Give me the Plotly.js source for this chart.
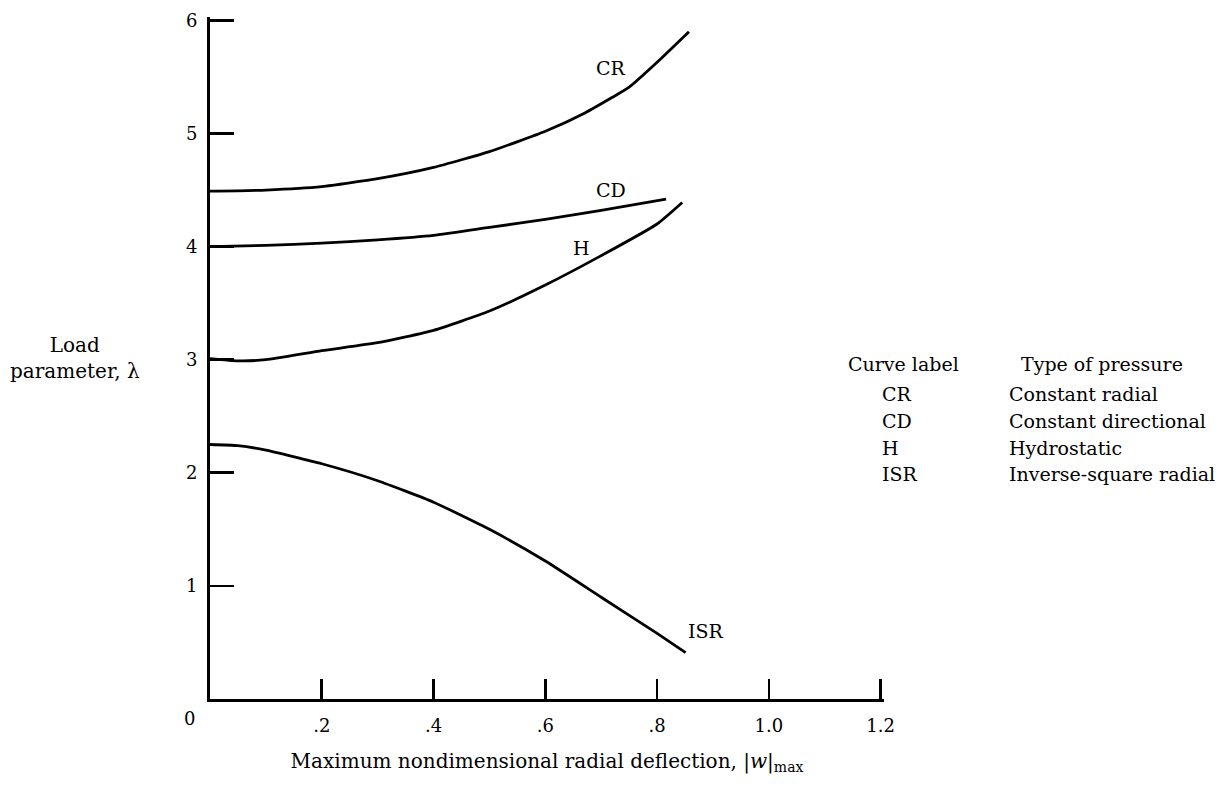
<!DOCTYPE html>
<html>
<head>
<meta charset="utf-8">
<script src="https://cdn.plot.ly/plotly-3.0.1.min.js"></script>
<style>html,body{margin:0;padding:0;background:#fff;}#chart{width:1228px;height:786px;}</style>
</head>
<body>
<div id="chart"></div>
<script>
// Curve data
const crX  = [0, 0.1, 0.2, 0.3, 0.4, 0.5, 0.6, 0.67, 0.72, 0.75, 0.80, 0.857];
const crY  = [4.49, 4.50, 4.53, 4.60, 4.70, 4.84, 5.02, 5.18, 5.32, 5.41, 5.63, 5.90];
const cdX  = [0, 0.1, 0.2, 0.3, 0.4, 0.5, 0.6, 0.7, 0.816];
const cdY  = [4.00, 4.01, 4.03, 4.06, 4.10, 4.17, 4.24, 4.32, 4.42];
const hX   = [0, 0.05, 0.1, 0.2, 0.3, 0.4, 0.5, 0.6, 0.7, 0.8, 0.845];
const hY   = [3.01, 2.99, 3.00, 3.08, 3.15, 3.26, 3.43, 3.66, 3.92, 4.20, 4.39];
const isrX = [0, 0.05, 0.1, 0.2, 0.3, 0.4, 0.5, 0.6, 0.7, 0.8, 0.851];
const isrY = [2.25, 2.24, 2.20, 2.08, 1.93, 1.74, 1.50, 1.22, 0.90, 0.58, 0.41];

const curveNames = ["CR", "CD", "H", "ISR"];
const curveTypes = ["Constant radial", "Constant directional", "Hydrostatic", "Inverse-square radial"];

const xTickVals = [0.2, 0.4, 0.6, 0.8, 1.0, 1.2];
const xTickText = [".2", ".4", ".6", ".8", "1.0", "1.2"];
const yTickVals = [1, 2, 3, 4, 5, 6];
const yTickText = ["1", "2", "3", "4", "5", "6"];

const FONT = "DejaVu Serif, Liberation Serif, serif";
const lineStyle = {color: "black", width: 2.8, shape: "spline", smoothing: 0.5};

const traces = [
  {x: crX, y: crY}, {x: cdX, y: cdY}, {x: hX, y: hY}, {x: isrX, y: isrY}
].map((t, i) => Object.assign(t, {type: "scatter", mode: "lines", name: curveNames[i],
  line: lineStyle, hoverinfo: "skip", showlegend: false}));

const labelPos = [[0.717, 5.58], [0.717, 4.50], [0.665, 3.99], [0.888, 0.60]];
const annotations = [];
curveNames.forEach((n, i) => annotations.push({
  x: labelPos[i][0], y: labelPos[i][1], xref: "x", yref: "y", text: n, showarrow: false,
  xanchor: "center", yanchor: "middle", font: {family: FONT, size: 19, color: "black"}
}));
// origin "0"
annotations.push({x: 0, y: 0, xref: "x", yref: "y", text: "0", showarrow: false,
  xanchor: "center", yanchor: "middle", xshift: -21, yshift: -19,
  font: {family: FONT, size: 18, color: "black"}});
// y-axis title (horizontal)
annotations.push({x: 0, y: 0, xref: "paper", yref: "paper", text: "Load<br>parameter, λ",
  showarrow: false, xanchor: "center", yanchor: "middle", xshift: -135, yshift: 341,
  align: "center", font: {family: FONT, size: 20, color: "black"}});
// legend table
const rowShift = [335, 305, 278, 251, 225];
annotations.push({x: 1, y: 0, xref: "paper", yref: "paper", text: "Curve label", showarrow: false,
  xanchor: "center", yanchor: "middle", xshift: 19, yshift: rowShift[0],
  font: {family: FONT, size: 19, color: "black"}});
annotations.push({x: 1, y: 0, xref: "paper", yref: "paper", text: "Type of pressure", showarrow: false,
  xanchor: "center", yanchor: "middle", xshift: 218, yshift: rowShift[0],
  font: {family: FONT, size: 19, color: "black"}});
curveNames.forEach((n, i) => {
  annotations.push({x: 1, y: 0, xref: "paper", yref: "paper", text: n, showarrow: false,
    xanchor: "left", yanchor: "middle", xshift: -4, yshift: rowShift[i + 1],
    font: {family: FONT, size: 19, color: "black"}});
  annotations.push({x: 1, y: 0, xref: "paper", yref: "paper", text: curveTypes[i], showarrow: false,
    xanchor: "left", yanchor: "middle", xshift: 123, yshift: rowShift[i + 1],
    font: {family: FONT, size: 19, color: "black"}});
});

const layout = {
  width: 1228, height: 786,
  margin: {l: 210, r: 344, t: 17, b: 87},
  paper_bgcolor: "white", plot_bgcolor: "white",
  font: {family: FONT, color: "black"},
  xaxis: {
    range: [0, 1.206], showgrid: false, zeroline: false,
    showline: true, linecolor: "black", linewidth: 3,
    ticks: "inside", ticklen: 20, tickwidth: 2.6, tickcolor: "black",
    tickvals: xTickVals, ticktext: xTickText, ticklabelstandoff: 8,
    tickfont: {family: FONT, size: 18, color: "black"},
    title: {text: "Maximum nondimensional radial deflection, |<i>w</i>|<sub>max</sub>",
      font: {family: FONT, size: 20, color: "black"}, standoff: 20}
  },
  yaxis: {
    range: [0, 6.03], showgrid: false, zeroline: false,
    showline: true, linecolor: "black", linewidth: 3,
    ticks: "inside", ticklen: 24, tickwidth: 2.6, tickcolor: "black",
    tickvals: yTickVals, ticktext: yTickText, ticklabelstandoff: 6,
    tickfont: {family: FONT, size: 18, color: "black"}
  },
  annotations: annotations,
  showlegend: false
};

Plotly.newPlot("chart", traces, layout, {displayModeBar: false, staticPlot: true});
</script>
</body>
</html>
